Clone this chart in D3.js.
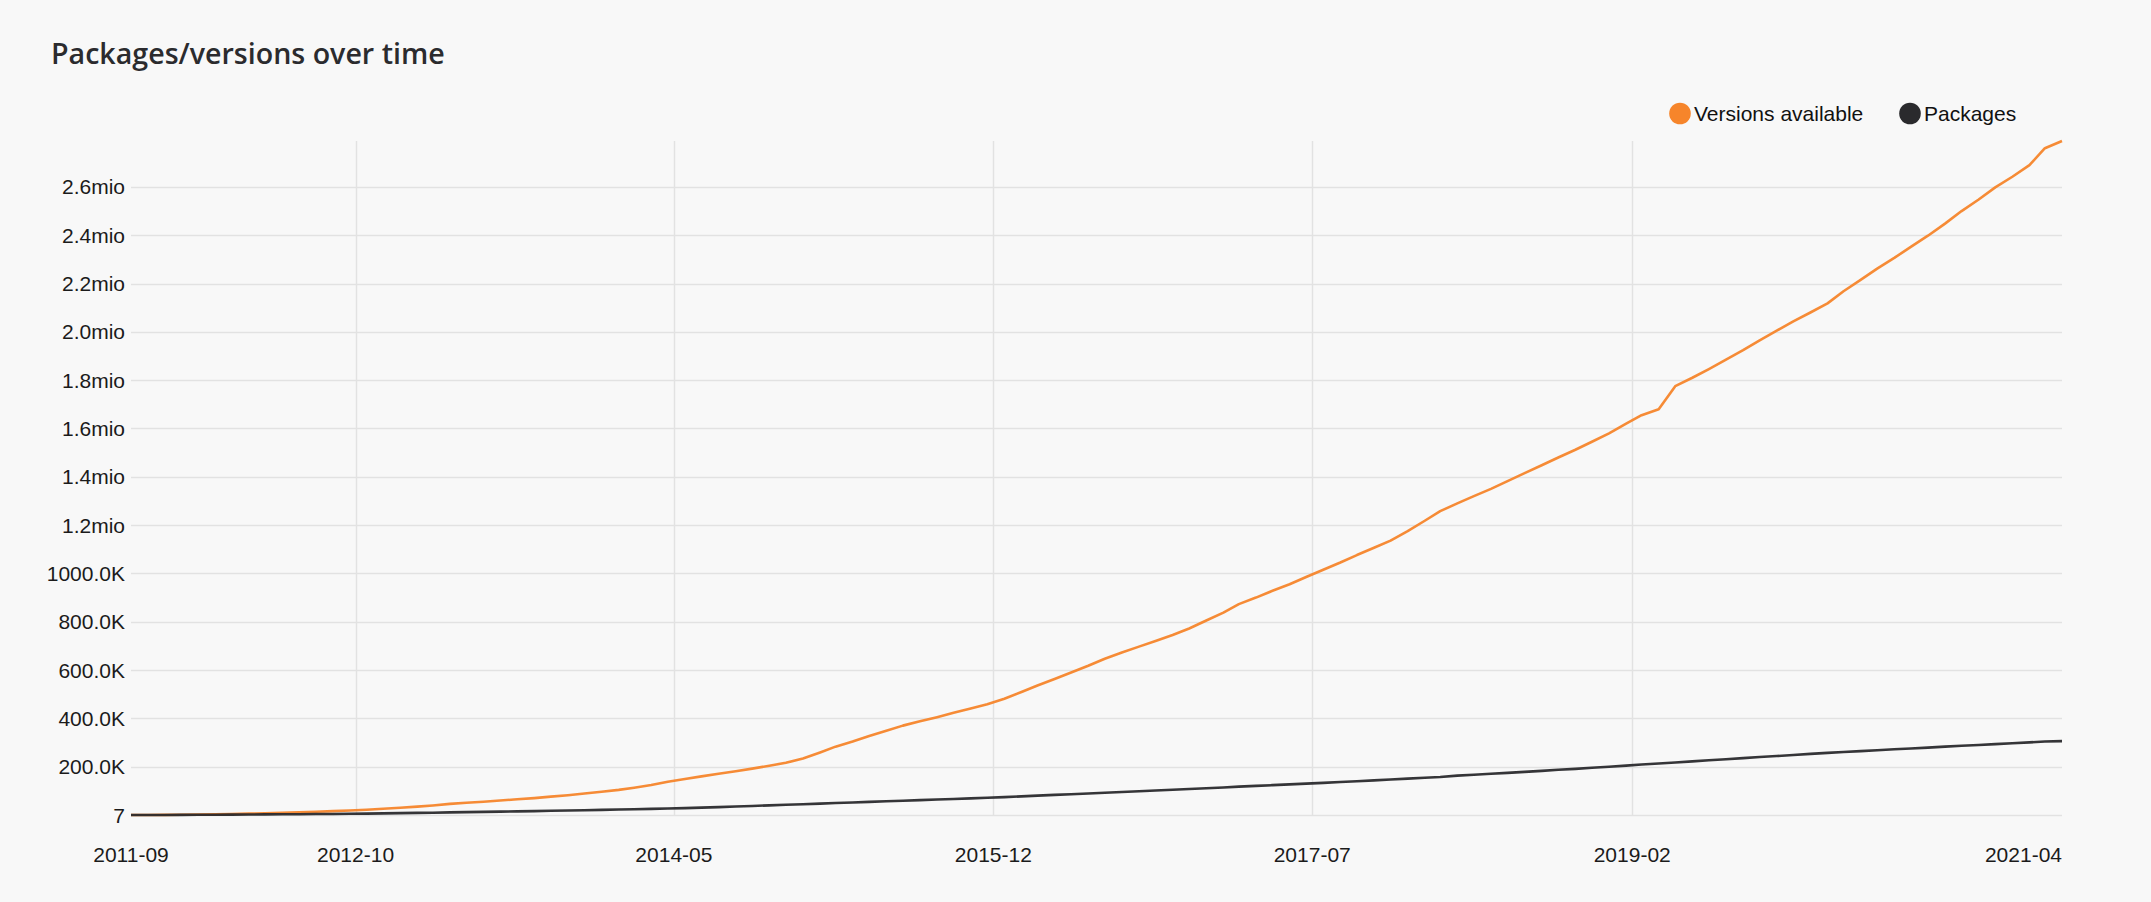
<!DOCTYPE html>
<html><head><meta charset="utf-8">
<script src="https://cdn.jsdelivr.net/npm/d3@7"></script>
<style>
html,body{margin:0;padding:0;background:#f8f8f8;}
svg{display:block;}
</style></head><body>
<svg id="chart" width="2151" height="902"></svg>
<script>
// ---- data ----
const months = [
"2011-09","2011-10","2011-11","2011-12",
"2012-01","2012-02","2012-03","2012-04","2012-05","2012-06","2012-07","2012-08","2012-09","2012-10","2012-11","2012-12",
"2013-01","2013-02","2013-03","2013-04","2013-05","2013-06","2013-07","2013-08","2013-09","2013-10","2013-11","2013-12",
"2014-01","2014-02","2014-03","2014-04","2014-05","2014-06","2014-07","2014-08","2014-09","2014-10","2014-11","2014-12",
"2015-01","2015-02","2015-03","2015-04","2015-05","2015-06","2015-07","2015-08","2015-09","2015-10","2015-11","2015-12",
"2016-01","2016-02","2016-03","2016-04","2016-05","2016-06","2016-07","2016-08","2016-09","2016-10","2016-11","2016-12",
"2017-01","2017-02","2017-03","2017-04","2017-05","2017-06","2017-07","2017-08","2017-09","2017-10","2017-11","2017-12",
"2018-01","2018-02","2018-03","2018-04","2018-05","2018-06","2018-07","2018-08","2018-09","2018-10","2018-11","2018-12",
"2019-01","2019-02","2019-03","2019-04","2019-05","2019-06","2019-07","2019-08","2019-09","2019-10","2019-11","2019-12",
"2020-01","2020-02","2020-03","2020-04","2020-05","2020-06","2020-07","2020-08","2020-09","2020-10","2020-11","2020-12",
"2021-01","2021-02","2021-03","2021-04"
];
const versionsAvailable = [
7, 300, 700, 1200, 1800, 2600, 4200, 5500, 7000, 9000,
11000, 13500, 16000, 18500, 22000, 26000, 30000, 34500, 39500, 46000,
50500, 55000, 60000, 65000, 70000, 76000, 82000, 89000, 96000, 104000,
113000, 124000, 138000, 149000, 160000, 171000, 181000, 192000, 204000, 216000,
234000, 259000, 283000, 304000, 327000, 349000, 370000, 388000, 405000, 423000,
441000, 458000, 481000, 509000, 536000, 563000, 590000, 618000, 647000, 673000,
697000, 720000, 745000, 772000, 805000, 838000, 873000, 900000, 928000, 955000,
985000, 1015000, 1045000, 1076000, 1106000, 1136000, 1175000, 1218000, 1258000, 1290000,
1320000, 1350000, 1382000, 1415000, 1448000, 1480000, 1512000, 1545000, 1580000, 1620000,
1655000, 1680000, 1775000, 1810000, 1846000, 1885000, 1924000, 1965000, 2005000, 2043000,
2080000, 2118000, 2168000, 2215000, 2262000, 2306000, 2352000, 2398000, 2448000, 2500000,
2548000, 2598000, 2642000, 2690000, 2760000, 2790000
];
const packages = [
7, 100, 300, 500, 800, 1100, 1500, 1900, 2400, 2900,
3400, 3900, 4400, 5000, 5800, 6700, 7600, 8600, 9600, 10700,
11800, 12900, 14000, 15100, 16200, 17400, 18600, 19900, 21200, 22500,
23900, 25400, 26900, 28600, 30600, 32800, 35100, 37500, 39900, 42300,
44700, 47100, 49500, 51900, 54300, 56700, 59100, 61500, 63900, 66400,
68900, 71500, 74200, 77200, 80200, 83200, 86200, 89200, 92200, 95300,
98400, 101500, 104600, 107700, 110900, 114100, 117300, 120400, 123500, 126600,
129800, 133000, 136500, 140000, 143500, 147000, 150500, 154000, 157500, 163000,
166500, 170500, 174500, 178500, 182500, 187000, 191000, 195500, 200000, 204500,
209000, 213000, 217500, 222000, 226500, 231000, 235500, 240000, 244000, 248500,
253000, 257000, 261000, 264500, 268000, 272000, 275500, 279000, 283000, 286500,
290000, 293500, 297000, 300500, 304500, 306000
];
const seriesNames = ["Versions available", "Packages"];
const seriesColors = ["#f6852b", "#2a2a2d"];
const yTickValues = [7, 200000, 400000, 600000, 800000, 1000000, 1200000, 1400000, 1600000, 1800000, 2000000, 2200000, 2400000, 2600000];
const yTickLabels = ["7", "200.0K", "400.0K", "600.0K", "800.0K", "1000.0K", "1.2mio", "1.4mio", "1.6mio", "1.8mio", "2.0mio", "2.2mio", "2.4mio", "2.6mio"];
const xGridDates = ["2012-10-12", "2014-05-12", "2015-12-12", "2017-07-12", "2019-02-12"];
const xTickLabels = ["2011-09", "2012-10", "2014-05", "2015-12", "2017-07", "2019-02", "2021-04"];

// ---- layout ----
const W = 2151, H = 902;
const plot = {left: 131, right: 2062, top: 141, bottom: 815};
const svg = d3.select("#chart");
svg.append("rect").attr("width", W).attr("height", H).attr("fill", "#f8f8f8");

const parseMonth = d3.timeParse("%Y-%m");
const parseDay = d3.timeParse("%Y-%m-%d");
const dates = months.map(parseMonth);

const x = d3.scaleTime().domain(d3.extent(dates)).range([plot.left, plot.right]);
const yMax = d3.max(versionsAvailable.concat(packages));
const y = d3.scaleLinear().domain([7, yMax]).range([plot.bottom, plot.top]);

const labelFont = "'Liberation Sans', Arial, Helvetica, sans-serif";

// horizontal grid
svg.append("g").selectAll("line").data(yTickValues).join("line")
  .attr("x1", plot.left).attr("x2", plot.right)
  .attr("y1", d => Math.round(y(d)) + 0.5).attr("y2", d => Math.round(y(d)) + 0.5)
  .attr("stroke", "#e2e2e2").attr("stroke-width", 1.5);

// vertical grid
const gridDates = xGridDates.map(parseDay);
svg.append("g").selectAll("line").data(gridDates).join("line")
  .attr("x1", d => Math.round(x(d)) + 0.5).attr("x2", d => Math.round(x(d)) + 0.5)
  .attr("y1", plot.top).attr("y2", plot.bottom)
  .attr("stroke", "#e2e2e2").attr("stroke-width", 1.5);

// y axis labels
svg.append("g").selectAll("text").data(yTickValues).join("text")
  .attr("x", plot.left - 6).attr("y", d => y(d))
  .attr("text-anchor", "end").attr("dominant-baseline", "central")
  .attr("font-family", labelFont).attr("font-size", 21).attr("fill", "#1b1b1b")
  .text((d, i) => yTickLabels[i]);

// x axis labels
const xLabelDates = [dates[0]].concat(gridDates, [dates[dates.length - 1]]);
svg.append("g").selectAll("text").data(xLabelDates).join("text")
  .attr("x", d => x(d)).attr("y", 854)
  .attr("text-anchor", (d, i) => i === xLabelDates.length - 1 ? "end" : "middle")
  .attr("dominant-baseline", "central")
  .attr("font-family", labelFont).attr("font-size", 21).attr("fill", "#1b1b1b")
  .text((d, i) => xTickLabels[i]);

// lines
const seriesData = [versionsAvailable, packages];
const line = d3.line().x((d, i) => x(dates[i])).y(d => y(d));
seriesData.forEach((s, k) => {
  svg.append("path").datum(s)
    .attr("d", line)
    .attr("fill", "none")
    .attr("stroke", seriesColors[k])
    .attr("stroke-width", 2.6)
    .attr("stroke-linejoin", "round")
    .attr("stroke-opacity", 0.95);
});

// title
svg.append("text").attr("x", 51).attr("y", 64)
  .attr("font-family", "'Open Sans', 'Noto Sans', sans-serif")
  .attr("font-weight", 600).attr("font-size", 28.6).attr("fill", "#2b2b2e")
  .text("Packages/versions over time");

// legend
const legendX = [1680, 1910];
const lg = svg.append("g");
seriesNames.forEach((n, k) => {
  lg.append("circle").attr("cx", legendX[k]).attr("cy", 113.5).attr("r", 10.8).attr("fill", seriesColors[k]);
  lg.append("text").attr("x", legendX[k] + 14).attr("y", 113.5)
    .attr("dominant-baseline", "central")
    .attr("font-family", labelFont).attr("font-size", 21).attr("fill", "#111")
    .text(n);
});
</script>
</body></html>
